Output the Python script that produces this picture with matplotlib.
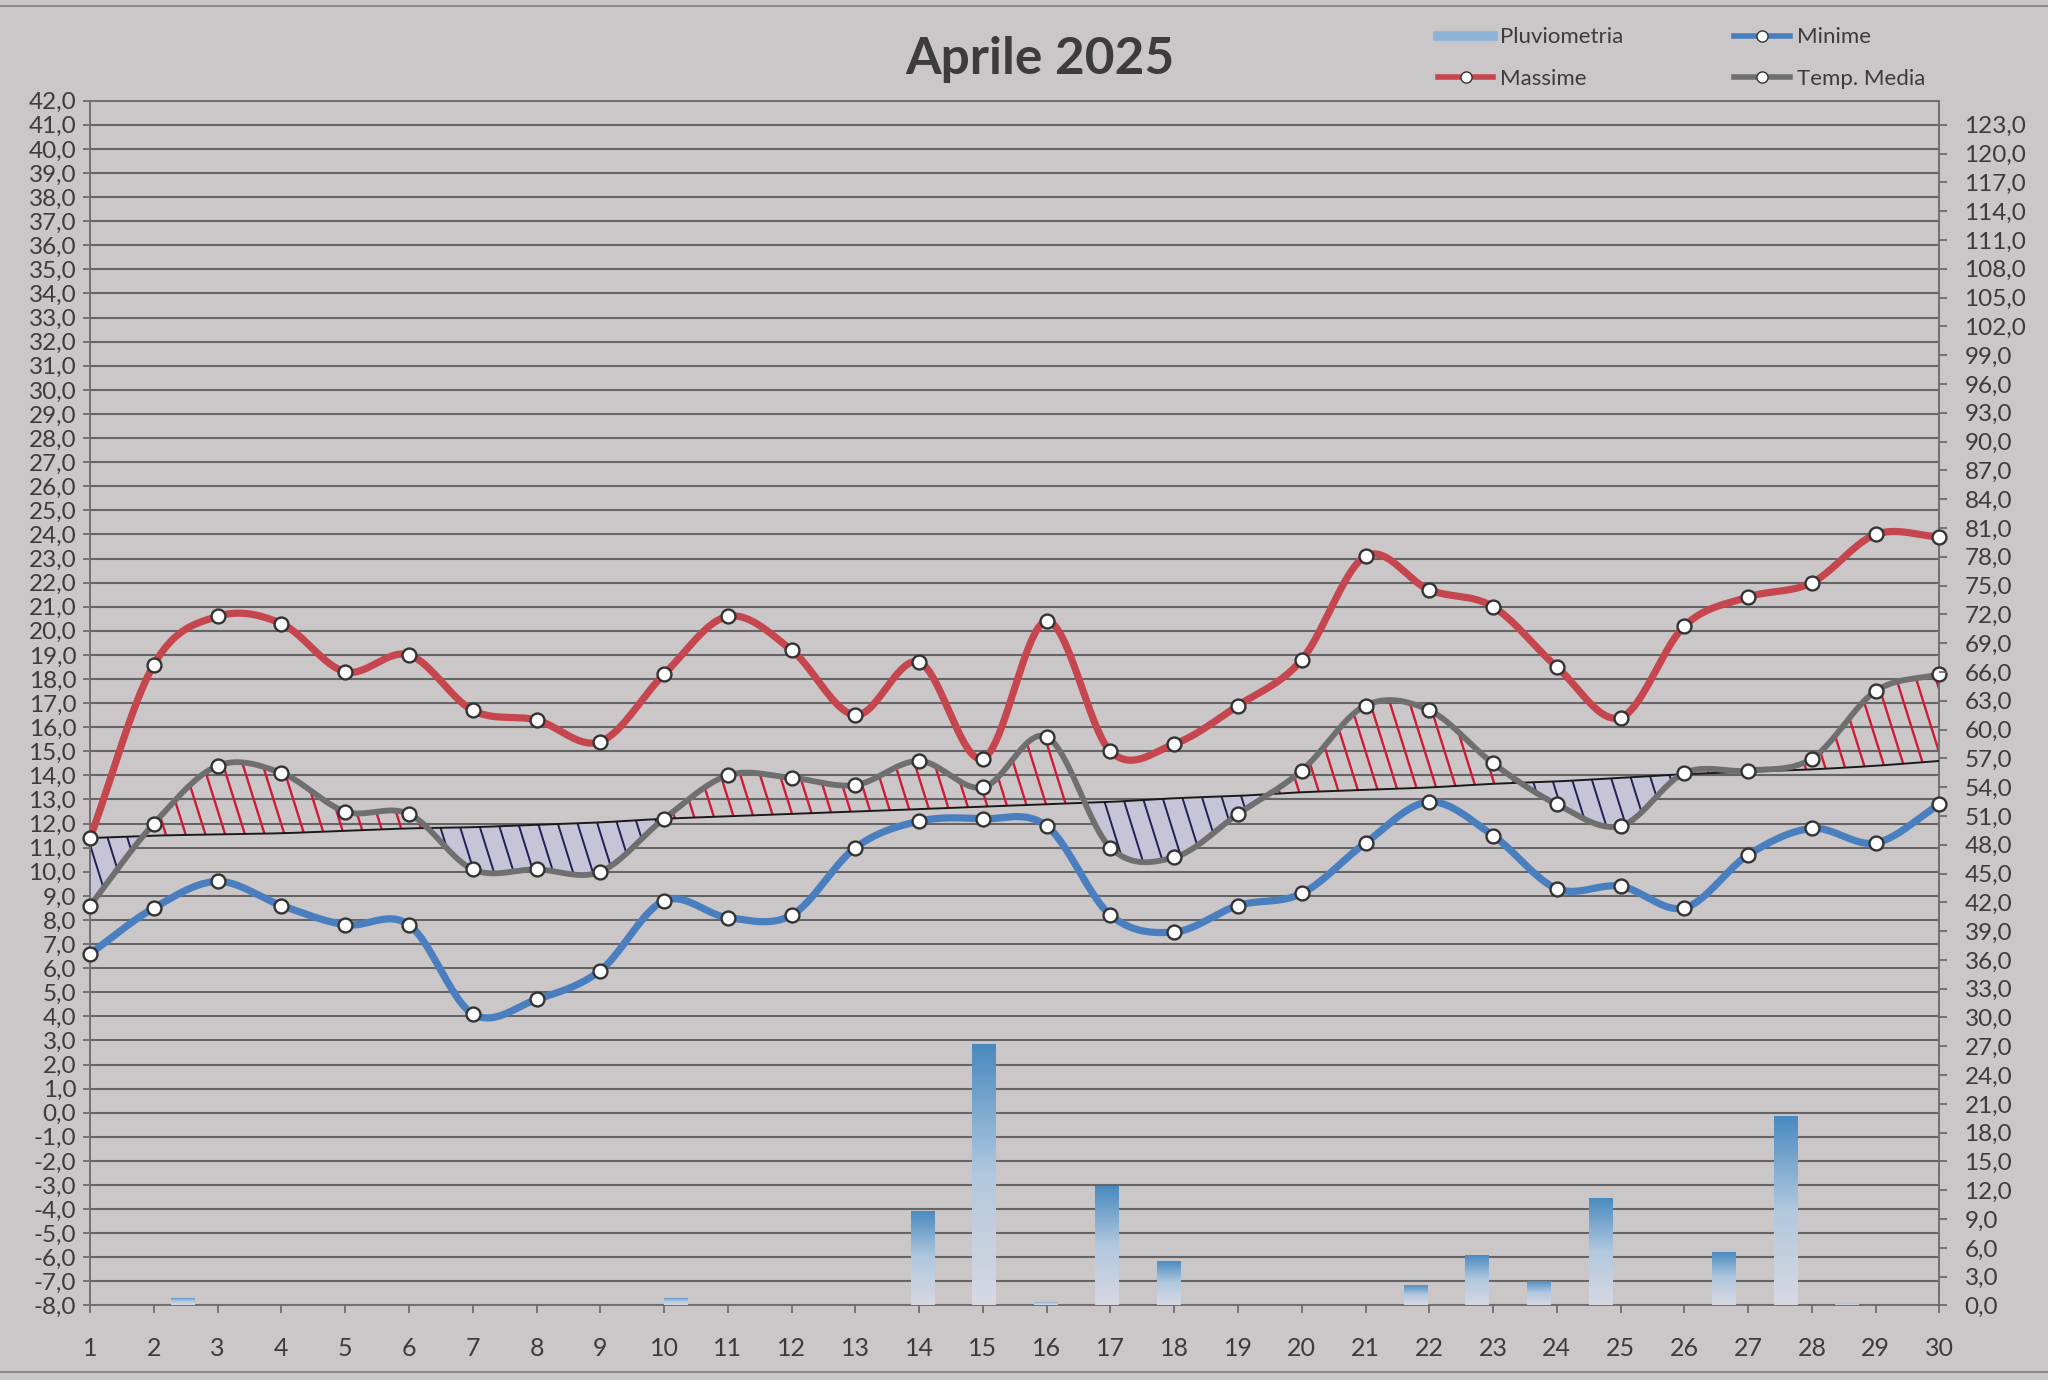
import numpy as np
import matplotlib
matplotlib.use("Agg")
import matplotlib.pyplot as plt
from matplotlib.collections import LineCollection
from matplotlib.colors import LinearSegmentedColormap
from matplotlib.lines import Line2D
from matplotlib.path import Path
from matplotlib.patches import Rectangle
from matplotlib.ticker import FuncFormatter, MultipleLocator

plt.rcParams['font.family'] = ['Lato', 'DejaVu Sans']

TITLE = "Aprile 2025"
DAYS = list(range(1, 31))
MASSIME = [11.4, 18.6, 20.6, 20.3, 18.3, 19.0, 16.7, 16.3, 15.4, 18.2,
           20.6, 19.2, 16.5, 18.7, 14.7, 20.4, 15.0, 15.3, 16.9, 18.8,
           23.1, 21.7, 21.0, 18.5, 16.4, 20.2, 21.4, 22.0, 24.0, 23.9]
MINIME = [6.6, 8.5, 9.6, 8.6, 7.8, 7.8, 4.1, 4.7, 5.9, 8.8,
          8.1, 8.2, 11.0, 12.1, 12.2, 11.9, 8.2, 7.5, 8.6, 9.1,
          11.2, 12.9, 11.5, 9.3, 9.4, 8.5, 10.7, 11.8, 11.2, 12.8]
MEDIA = [8.6, 12.0, 14.4, 14.1, 12.5, 12.4, 10.1, 10.1, 10.0, 12.2,
         14.0, 13.9, 13.6, 14.6, 13.5, 15.6, 11.0, 10.6, 12.4, 14.2,
         16.9, 16.7, 14.5, 12.8, 11.9, 14.1, 14.2, 14.7, 17.5, 18.2]
# media climatologica (linea nera)
NORMALE = [11.4, 11.5, 11.55, 11.6, 11.7, 11.8, 11.85, 11.95, 12.05, 12.2,
           12.3, 12.4, 12.5, 12.6, 12.7, 12.8, 12.9, 13.05, 13.15, 13.3,
           13.4, 13.5, 13.65, 13.75, 13.9, 14.05, 14.15, 14.25, 14.4, 14.6]
PIOGGIA = [0, 0.8, 0, 0, 0, 0, 0, 0, 0, 0.8,
           0, 0, 0, 9.8, 27.2, 0.4, 12.4, 4.6, 0, 0,
           0, 2.1, 5.3, 2.6, 11.2, 0, 5.6, 19.7, 0.2, 0]

RED = "#c6464f"
BLUE = "#4a7fbf"
GRAY = "#6f6f6f"
INK = "#3c3c3c"
BG = "#cbc7c9"


def smooth(x, y, n=40):
    # Excel-like smoothed line: cubic Hermite with Catmull-Rom tangents
    x = np.asarray(x, float)
    y = np.asarray(y, float)
    m = np.empty_like(y)
    m[1:-1] = (y[2:] - y[:-2]) / (x[2:] - x[:-2])
    m[0] = (y[1] - y[0]) / (x[1] - x[0])
    m[-1] = (y[-1] - y[-2]) / (x[-1] - x[-2])
    t = np.linspace(0, 1, n, endpoint=False)
    h00 = 2 * t**3 - 3 * t**2 + 1
    h10 = t**3 - 2 * t**2 + t
    h01 = -2 * t**3 + 3 * t**2
    h11 = t**3 - t**2
    xs, ys = [], []
    for i in range(len(x) - 1):
        h = x[i + 1] - x[i]
        xs.append(x[i] + t * h)
        ys.append(h00 * y[i] + h10 * h * m[i] + h01 * y[i + 1] + h11 * h * m[i + 1])
    xs.append([x[-1]])
    ys.append([y[-1]])
    return np.concatenate(xs), np.concatenate(ys)


def hatch_between(ax, x, lo, hi, where, color, lw, fill="none"):
    # slanted pattern lines clipped to the area between two curves
    pc = ax.fill_between(x, lo, hi, where=where, interpolate=True,
                         facecolor=fill, edgecolor="none", zorder=2)
    paths = pc.get_paths()
    if not paths:
        return
    clip = Path.make_compound_path(*paths)
    starts = np.arange(x[0] - 3, x[-1] + 1, 0.31)
    segs = [[(a, 26), (a + 2.6, 4)] for a in starts]
    lc = LineCollection(segs, colors=color, linewidths=lw, zorder=2)
    ax.add_collection(lc)
    lc.set_clip_path(clip, ax.transData)


comma = FuncFormatter(lambda v, _: f"{v:.1f}".replace(".", ","))

fig = plt.figure(figsize=(20.48, 13.8), dpi=100, facecolor=BG)
ax = fig.add_axes([0.044, 0.054, 0.903, 0.873])
ax.set_facecolor("none")

# temperature lines
xs, s_max = smooth(DAYS, MASSIME)
_, s_min = smooth(DAYS, MINIME)
_, s_med = smooth(DAYS, MEDIA)
_, s_nor = smooth(DAYS, NORMALE)

hatch_between(ax, xs, s_nor, s_med, s_med >= s_nor, "#cf1a38", 1.7)
hatch_between(ax, xs, s_med, s_nor, s_med < s_nor, "#1f2256", 1.4,
              fill="#c6c4d6")
ax.plot(xs, s_nor, color="#1a1a1a", lw=1.4, zorder=3)

for s, vals, col, lw in [(s_max, MASSIME, RED, 5.2), (s_min, MINIME, BLUE, 5.2),
                         (s_med, MEDIA, GRAY, 4.2)]:
    ax.plot(xs, s, color=col, lw=lw, zorder=4, solid_capstyle="round")
    ax.plot(DAYS, vals, "o", mfc="white", mec="#333333", ms=10, mew=1.7,
            zorder=5, clip_on=False)

ax.set_xlim(DAYS[0], DAYS[-1])
ax.set_ylim(-8, 42)
ax.yaxis.set_major_locator(MultipleLocator(1))
ax.yaxis.set_major_formatter(comma)
ax.set_xticks(DAYS)
ax.grid(axis="y", color="#656565", lw=1.5)
ax.set_axisbelow(True)
ax.tick_params(axis="y", length=5, width=1.2, color="#656565", pad=5,
               labelsize=17.5, labelcolor=INK)
ax.tick_params(axis="x", length=6, width=1.2, color="#656565", pad=17,
               labelsize=18, labelcolor=INK)
for sp in ax.spines.values():
    sp.set_color("#707070")
    sp.set_linewidth(1.4)

# rain bars on the secondary axis (category bins across the full width)
ax2 = ax.twinx()
n = len(DAYS)
span = DAYS[-1] - DAYS[0]
pos = [DAYS[0] + (i + 0.5) * span / n for i in range(n)]
bars = ax2.bar(pos, PIOGGIA, width=0.37, color="none", edgecolor="none", zorder=1)
grad = np.linspace(1, 0, 256).reshape(-1, 1)
cmap = LinearSegmentedColormap.from_list("rain", ["#d8d8e2", "#b1c8de", "#4889c0"])
for b in bars:
    h = b.get_height()
    if h <= 0:
        continue
    x0, w = b.get_x(), b.get_width()
    im = ax2.imshow(grad, extent=[x0, x0 + w, 0, h], aspect="auto", cmap=cmap,
                    vmin=0, vmax=1, origin="upper", zorder=1)
    im.set_clip_path(b)

ax2.set_ylim(0, 125.5)
ax2.yaxis.set_major_locator(MultipleLocator(3))
ax2.yaxis.set_major_formatter(comma)
ax2.tick_params(axis="y", length=6, width=1.2, color="#656565", pad=12,
                labelsize=17.5, labelcolor=INK)
for sp in ax2.spines.values():
    sp.set_visible(False)
ax.set_xlim(DAYS[0], DAYS[-1])

fig.text(0.508, 0.957, TITLE, ha="center", va="center", fontsize=37,
         fontweight="bold", color="#3c3c3c")

handles = [
    Line2D([], [], color="#8db4d6", lw=7),
    Line2D([], [], color=RED, lw=4, marker="o", mfc="white", mec="#333333", ms=8),
    Line2D([], [], color=BLUE, lw=4, marker="o", mfc="white", mec="#333333", ms=8),
    Line2D([], [], color=GRAY, lw=4, marker="o", mfc="white", mec="#333333", ms=8),
]
leg = fig.legend(handles, ["Pluviometria", "Massime", "Minime", "Temp. Media"],
                 ncol=2, loc="center", bbox_to_anchor=(0.821, 0.958),
                 frameon=False, fontsize=16, handlelength=2.5, handletextpad=0.3,
                 columnspacing=5.0, labelspacing=0.95)
for t in leg.get_texts():
    t.set_color(INK)

fig.add_artist(Rectangle((-0.01, 0.006), 1.02, 0.99, transform=fig.transFigure,
                         fill=False, edgecolor="#8a8a8a", lw=1.5))

fig.savefig("out.png", dpi=100, facecolor=fig.get_facecolor())
